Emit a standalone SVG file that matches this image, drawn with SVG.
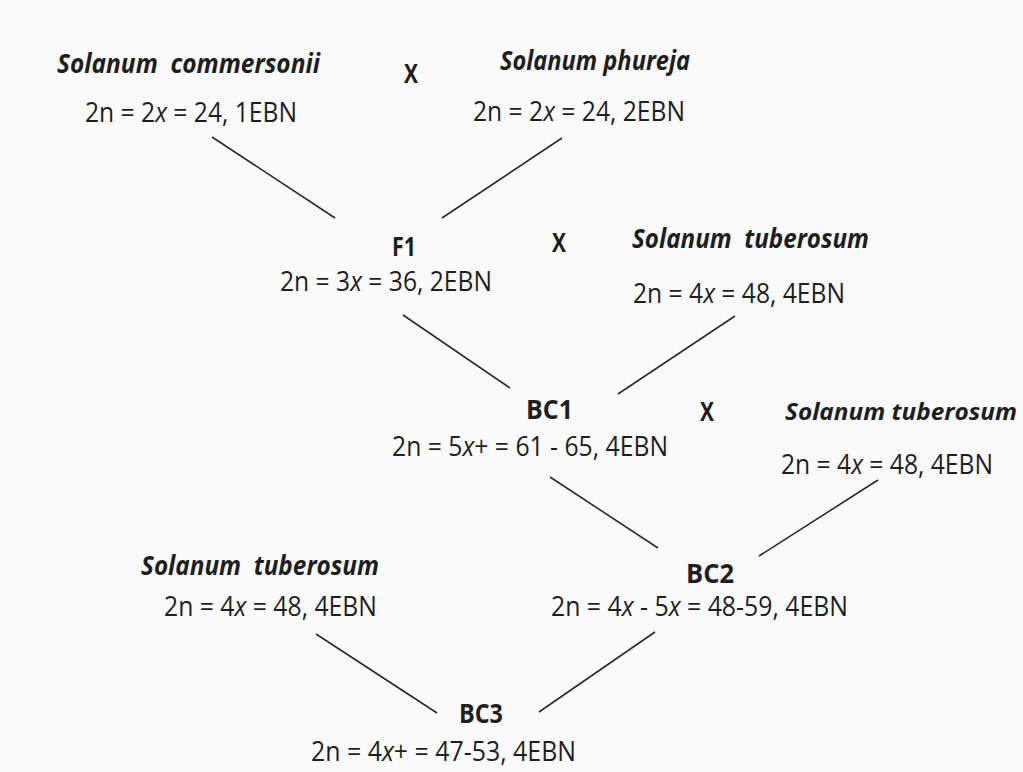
<svg xmlns="http://www.w3.org/2000/svg" width="1023" height="772" viewBox="0 0 1023 772">
<style>
text{font-family:"Open Sans","Liberation Sans",sans-serif;fill:#1e1e1e;font-size:27px}
.sp{font-weight:bold;font-style:italic;font-size:26px}
.b{font-weight:bold}
.i{font-style:italic}
line{stroke:#2a2a2a;stroke-width:1.6}
</style>
<rect width="1023" height="772" fill="#fafafa"/>
<g id="connectors">
<line x1="212" y1="137" x2="335" y2="218"/>
<line x1="562" y1="138" x2="442" y2="218"/>
<line x1="403" y1="315" x2="510" y2="388"/>
<line x1="735" y1="316" x2="618" y2="394"/>
<line x1="550" y1="477" x2="658" y2="548"/>
<line x1="878" y1="480" x2="759" y2="556"/>
<line x1="316" y1="634" x2="437" y2="713"/>
<line x1="655" y1="632" x2="539" y2="712"/>
</g>
<g id="commersonii">
<text class="sp" x="57" y="73" textLength="263" lengthAdjust="spacingAndGlyphs" xml:space="preserve">Solanum  commersonii</text>
<text x="85" y="122" textLength="212" lengthAdjust="spacingAndGlyphs">2n = 2<tspan class="i">x</tspan> = 24, 1EBN</text>
</g>
<g id="cross1"><text class="b" x="404" y="83" textLength="14" lengthAdjust="spacingAndGlyphs">X</text></g>
<g id="phureja">
<text class="sp" x="500" y="70" textLength="190" lengthAdjust="spacingAndGlyphs">Solanum phureja</text>
<text x="473" y="121" textLength="212" lengthAdjust="spacingAndGlyphs">2n = 2<tspan class="i">x</tspan> = 24, 2EBN</text>
</g>
<g id="F1">
<text class="b" x="392" y="256" textLength="24" lengthAdjust="spacingAndGlyphs">F1</text>
<text x="280" y="291" textLength="212" lengthAdjust="spacingAndGlyphs">2n = 3<tspan class="i">x</tspan> = 36, 2EBN</text>
</g>
<g id="cross2"><text class="b" x="552" y="252" textLength="14" lengthAdjust="spacingAndGlyphs">X</text></g>
<g id="tuberosum1">
<text class="sp" x="632" y="248" textLength="237" lengthAdjust="spacingAndGlyphs" xml:space="preserve">Solanum  tuberosum</text>
<text x="633" y="303" textLength="212" lengthAdjust="spacingAndGlyphs">2n = 4<tspan class="i">x</tspan> = 48, 4EBN</text>
</g>
<g id="BC1">
<text class="b" x="526" y="419" textLength="47" lengthAdjust="spacingAndGlyphs">BC1</text>
<text x="392" y="456" textLength="276" lengthAdjust="spacingAndGlyphs">2n = 5<tspan class="i">x</tspan>+ = 61 - 65, 4EBN</text>
</g>
<g id="cross3"><text class="b" x="700" y="421" textLength="14" lengthAdjust="spacingAndGlyphs">X</text></g>
<g id="tuberosum2">
<text class="sp" x="785" y="420" textLength="232" lengthAdjust="spacingAndGlyphs" style="font-size:24px">Solanum tuberosum</text>
<text x="781" y="474" textLength="212" lengthAdjust="spacingAndGlyphs">2n = 4<tspan class="i">x</tspan> = 48, 4EBN</text>
</g>
<g id="BC2">
<text class="b" x="686" y="583" textLength="48" lengthAdjust="spacingAndGlyphs">BC2</text>
<text x="551" y="616" textLength="297" lengthAdjust="spacingAndGlyphs">2n = 4<tspan class="i">x</tspan> - 5<tspan class="i">x</tspan> = 48-59, 4EBN</text>
</g>
<g id="tuberosum3">
<text class="sp" x="141" y="575" textLength="238" lengthAdjust="spacingAndGlyphs" xml:space="preserve">Solanum  tuberosum</text>
<text x="164" y="616" textLength="213" lengthAdjust="spacingAndGlyphs">2n = 4<tspan class="i">x</tspan> = 48, 4EBN</text>
</g>
<g id="BC3">
<text class="b" x="459" y="723" textLength="44" lengthAdjust="spacingAndGlyphs">BC3</text>
<text x="311" y="761" textLength="265" lengthAdjust="spacingAndGlyphs">2n = 4<tspan class="i">x</tspan>+ = 47-53, 4EBN</text>
</g>
</svg>
